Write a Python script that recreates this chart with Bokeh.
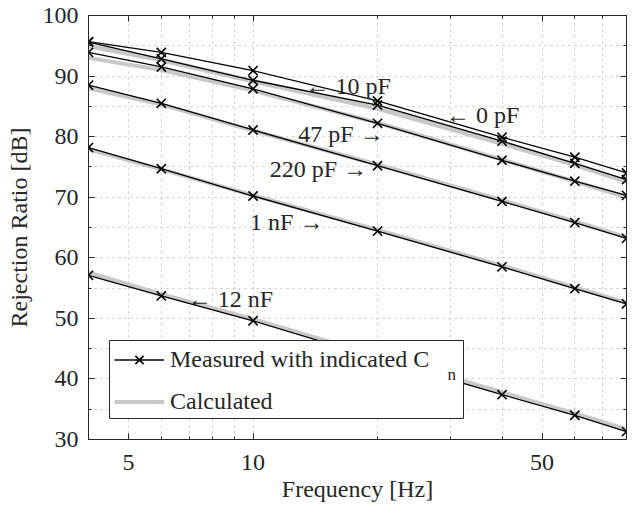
from bokeh.plotting import figure
from bokeh.models import (FixedTicker, LinearAxis, LogAxis, Legend, LegendItem,
                          Label, Range1d, ColumnDataSource, BoxAnnotation)
from bokeh.embed import file_html
from bokeh.resources import INLINE

# ---------------- data ----------------
freq = [4, 6, 10, 20, 40, 60, 80]

meas_0pF = [95.7, 93.9, 90.9, 85.9, 79.9, 76.6, 74.0]
meas_10pF = [95.6, 92.85, 89.3, 85.2, 79.25, 75.6, 72.9]
meas_47pF = [93.9, 91.5, 87.9, 82.2, 76.1, 72.65, 70.3]
meas_220pF = [88.5, 85.5, 81.1, 75.2, 69.3, 65.8, 63.2]
meas_1nF = [78.2, 74.7, 70.2, 64.4, 58.5, 54.9, 52.4]
meas_12nF = [57.1, 53.7, 49.6, 43.4, 37.4, 34.0, 31.3]

calc_0pF = [95.0, 92.7, 89.2, 84.7, 78.9, 75.4, 72.6]
calc_10pF = [94.9, 92.6, 89.1, 84.6, 78.8, 75.3, 72.5]
calc_47pF = [93.0, 91.0, 87.6, 82.3, 76.2, 72.6, 70.0]
calc_220pF = [88.0, 85.3, 81.0, 75.4, 69.5, 66.0, 63.4]
calc_1nF = [77.9, 74.6, 70.3, 64.6, 58.7, 55.1, 52.6]
calc_12nF = [57.6, 54.0, 49.9, 43.8, 37.8, 34.3, 31.7]

measured = [meas_0pF, meas_10pF, meas_47pF, meas_220pF, meas_1nF, meas_12nF]
calculated = [calc_0pF, calc_10pF, calc_47pF, calc_220pF, calc_1nF, calc_12nF]

x_tick_values = [5, 10, 50]
x_tick_labels = ["5", "10", "50"]
x_minor_ticks = [4, 6, 7, 8, 9, 20, 30, 40, 60, 70, 80]
y_ticks = [30, 40, 50, 60, 70, 80, 90, 100]
y_minor_ticks = [35, 45, 55, 65, 75, 85, 95]

ann_text = ["\u2190  10 pF", "\u2190  0 pF", "47 pF  \u2192", "220 pF  \u2192", "1 nF  \u2192", "\u2190  12 nF"]
ann_x = [13.4, 29.3, 21.4, 19.5, 15.3, 6.95]
ann_y = [88.4, 83.6, 80.5, 74.7, 65.9, 53.2]
ann_align = ["left", "left", "right", "right", "right", "left"]

# ---------------- style ----------------
FONT = "'Liberation Serif', 'Times New Roman', serif"
INK = "#262626"
GRID = "#c9c9c9"
FS = "24px"

p = figure(width=633, height=511, x_axis_type="log",
           x_range=Range1d(4, 80), y_range=Range1d(30, 100),
           output_backend="svg", toolbar_location=None,
           min_border_left=88, min_border_right=7,
           min_border_top=15, min_border_bottom=72)
p.background_fill_color = "white"
p.border_fill_color = "white"
p.outline_line_color = INK
p.outline_line_width = 1

# calculated lines (gray, behind)
calc_renderers = []
for c in calculated:
    r = p.line(freq, c, line_color="#c8c8c8", line_width=4)
    calc_renderers.append(r)

# measured lines with x markers
meas_line_r = []
meas_mark_r = []
for m in measured:
    src = ColumnDataSource(dict(f=freq, v=m))
    lr = p.line("f", "v", source=src, line_color="black", line_width=1.3)
    sr = p.scatter("f", "v", source=src, marker="x", size=13,
                   line_color="black", line_width=1.6)
    meas_line_r.append(lr)
    meas_mark_r.append(sr)

# axes
xt = FixedTicker(ticks=x_tick_values, minor_ticks=x_minor_ticks)
yt = FixedTicker(ticks=y_ticks, minor_ticks=y_minor_ticks)

for ax in (p.xaxis[0], p.yaxis[0]):
    ax.axis_line_color = INK
    ax.major_tick_line_color = INK
    ax.minor_tick_line_color = INK
    ax.major_tick_in = 6
    ax.major_tick_out = 0
    ax.minor_tick_in = 3
    ax.minor_tick_out = 0
    ax.major_label_text_font = FONT
    ax.major_label_text_font_size = FS
    ax.major_label_text_color = INK
    ax.axis_label_text_font = FONT
    ax.axis_label_text_font_size = FS
    ax.axis_label_text_color = INK
    ax.axis_label_text_font_style = "normal"

p.xaxis.ticker = xt
p.xaxis.major_label_overrides = {v: s for v, s in zip(x_tick_values, x_tick_labels)}
p.xaxis.axis_label = "Frequency [Hz]"
p.xaxis.major_label_standoff = 15
p.xaxis.axis_label_standoff = 3

p.yaxis.ticker = yt
p.yaxis.axis_label = "Rejection Ratio [dB]"
p.yaxis.major_label_standoff = 10
p.yaxis.axis_label_standoff = 8

# box ticks on right / top (no labels)
rax = LinearAxis(ticker=FixedTicker(ticks=y_ticks, minor_ticks=y_minor_ticks),
                 major_label_text_color=None, major_label_text_font_size="1px",
                 major_label_standoff=0,
                 axis_line_color=INK, major_tick_line_color=INK, minor_tick_line_color=INK,
                 major_tick_in=6, major_tick_out=0, minor_tick_in=3, minor_tick_out=0)
p.add_layout(rax, "right")
tax = LogAxis(ticker=FixedTicker(ticks=x_tick_values, minor_ticks=x_minor_ticks),
              major_label_text_color=None, major_label_text_font_size="1px",
              major_label_standoff=0,
              axis_line_color=INK, major_tick_line_color=INK, minor_tick_line_color=INK,
              major_tick_in=6, major_tick_out=0, minor_tick_in=3, minor_tick_out=0)
p.add_layout(tax, "above")

# grids
p.xgrid.ticker = xt
p.ygrid.ticker = yt
for g in (p.xgrid[0], p.ygrid[0]):
    g.grid_line_color = GRID
    g.grid_line_dash = "2 4"
    g.grid_line_width = 1
    g.minor_grid_line_color = GRID
    g.minor_grid_line_dash = "2 4"
    g.minor_grid_line_width = 1

# annotations
for t, x, y, a in zip(ann_text, ann_x, ann_y, ann_align):
    p.add_layout(Label(x=x, y=y, text=t, text_align=a, text_baseline="middle",
                       text_font=FONT, text_font_size=FS, text_color=INK))

# legend background box (drawn before the subscript label)
p.add_layout(BoxAnnotation(left=21, right=375, bottom=21, top=99,
                           left_units="screen", right_units="screen",
                           bottom_units="screen", top_units="screen",
                           fill_color="white", fill_alpha=1.0,
                           line_color=INK, line_width=1, line_alpha=1.0))

p.add_layout(Label(x=359, y=65, x_units="screen", y_units="screen", text="n",
                   text_font=FONT, text_font_size="17px", text_color=INK,
                   text_baseline="middle"))

# legend (transparent, on top of the box)
legend = Legend(items=[
    LegendItem(label="Measured with indicated C", renderers=[meas_line_r[0], meas_mark_r[0]]),
    LegendItem(label="Calculated", renderers=[calc_renderers[0]]),
], location=(26, 23))
legend.label_text_font = FONT
legend.label_text_font_size = FS
legend.label_text_color = INK
legend.border_line_color = None
legend.background_fill_alpha = 0.0
legend.padding = 4
legend.margin = 0
legend.spacing = 13
legend.label_height = 29
legend.glyph_height = 29
legend.glyph_width = 50
legend.label_standoff = 6
p.add_layout(legend)

open("out.html", "w").write(file_html(p, INLINE))
